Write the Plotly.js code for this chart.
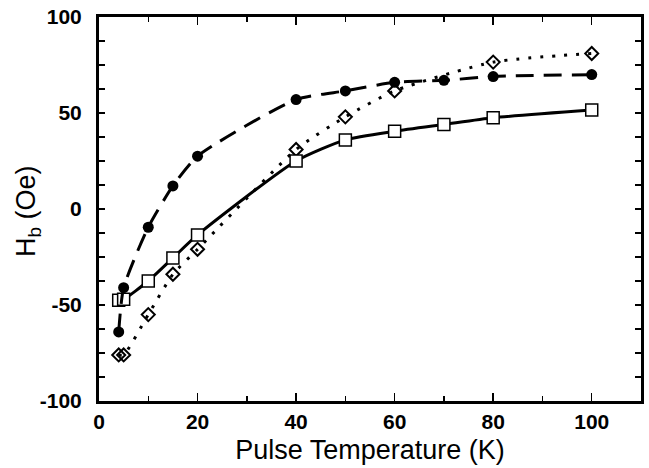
<!DOCTYPE html>
<html>
<head>
<meta charset="utf-8">
<script src="https://cdn.plot.ly/plotly-3.0.1.min.js"></script>
<style>body{margin:0;padding:0;background:#fff}</style>
</head>
<body>
<div id="chart" style="width:649px;height:468px"></div>
<script>
var xCircle = [4, 5, 10, 15, 20, 40, 50, 60, 70, 80, 100];
var yCircle = [-64, -41, -9.5, 12, 27.5, 57, 61.5, 66, 67, 69, 70];
var xSquare = [4, 5, 10, 15, 20, 40, 50, 60, 70, 80, 100];
var ySquare = [-47.5, -47, -37.5, -25.5, -13.5, 25, 36, 40.5, 44, 47.5, 51.5];
var xDiamond = [4, 5, 10, 15, 20, 40, 50, 60, 80, 100];
var yDiamond = [-76, -76, -55, -34, -21, 31, 48, 61.5, 76.5, 81];
var xTickVals = [0, 20, 40, 60, 80, 100];
var yTickVals = [-100, -50, 0, 50, 100];

var traces = [
  {x: xDiamond, y: yDiamond, type: 'scatter', mode: 'lines+markers',
   line: {color: '#000', width: 3, dash: '3px,9px', shape: 'spline', smoothing: 0.6},
   marker: {symbol: 'diamond-open', size: 10, color: '#000', line: {width: 2, color: '#000'}}},
  {x: xSquare, y: ySquare, type: 'scatter', mode: 'lines+markers',
   line: {color: '#000', width: 3, shape: 'spline', smoothing: 0.6},
   marker: {symbol: 'square', size: 12, color: '#fff', line: {width: 1.5, color: '#000'}}},
  {x: xCircle, y: yCircle, type: 'scatter', mode: 'lines+markers',
   line: {color: '#000', width: 3, dash: '18px,10px', shape: 'spline', smoothing: 0.6},
   marker: {symbol: 'circle', size: 11, color: '#000'}}
];

var layout = {
  width: 649, height: 468,
  margin: {l: 99, r: 8, t: 17, b: 67},
  showlegend: false,
  paper_bgcolor: '#fff', plot_bgcolor: '#fff',
  font: {family: 'Liberation Sans, Arial, sans-serif', color: '#000'},
  xaxis: {
    range: [0, 110], tickvals: xTickVals, ticktext: xTickVals.map(String),
    ticks: 'inside', ticklen: 8, tickwidth: 1.5, tickcolor: '#000',
    minor: {dtick: 10, ticks: 'inside', ticklen: 5, tickwidth: 1.5, tickcolor: '#000'},
    showline: true, linewidth: 3, linecolor: '#000', mirror: 'allticks',
    showgrid: false, zeroline: false,
    tickfont: {size: 21, family: 'Liberation Sans, Arial, sans-serif', weight: 'bold'},
    title: {text: 'Pulse Temperature (K)', font: {size: 27}, standoff: 8}
  },
  yaxis: {
    range: [-100, 100], tickvals: yTickVals, ticktext: yTickVals.map(String),
    ticks: 'inside', ticklen: 6, tickwidth: 1.5, tickcolor: '#000',
    minor: {dtick: 12.5, ticks: 'inside', ticklen: 6, tickwidth: 1.5, tickcolor: '#000'},
    showline: true, linewidth: 3, linecolor: '#000', mirror: 'allticks',
    showgrid: false, zeroline: false,
    ticklabelstandoff: 10,
    tickfont: {size: 21, family: 'Liberation Sans, Arial, sans-serif', weight: 'bold'}
  },
  annotations: [{
    text: 'H<sub>b</sub> (Oe)', xref: 'paper', yref: 'paper',
    x: -0.131, y: 0.495, xanchor: 'center', yanchor: 'middle',
    textangle: -90, showarrow: false, font: {size: 27, color: '#000'}
  }]
};

Plotly.newPlot('chart', traces, layout, {staticPlot: true, displayModeBar: false});
</script>
</body>
</html>
